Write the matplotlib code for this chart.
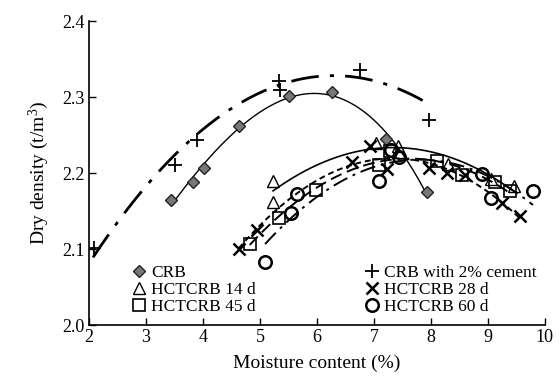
import numpy as np
import matplotlib
matplotlib.use("Agg")
import matplotlib.pyplot as plt
from matplotlib.legend import Legend

plt.rcParams['font.family'] = ['Liberation Serif', 'DejaVu Serif']
plt.rcParams['mathtext.fontset'] = 'custom'
plt.rcParams['mathtext.rm'] = 'Liberation Serif'
plt.rcParams['mathtext.it'] = 'Liberation Serif:italic'

# ---- data ----
crb_x = [3.44, 3.82, 4.02, 4.63, 5.51, 6.26, 7.21, 7.93]
crb_y = [2.164, 2.188, 2.207, 2.262, 2.302, 2.306, 2.245, 2.175]

cem_x = [2.08, 3.51, 3.89, 5.33, 5.35, 6.76, 7.96]
cem_y = [2.101, 2.210, 2.243, 2.321, 2.309, 2.336, 2.270]
# trend line of the cement series
cem_trend_x = [2.07, 3.20, 4.50, 6.30, 7.96]
cem_trend_y = [2.089, 2.200, 2.285, 2.328, 2.291]

d14_x = [5.23, 5.23, 7.04, 7.42, 8.30, 9.05, 9.45]
d14_y = [2.189, 2.162, 2.240, 2.235, 2.212, 2.192, 2.183]

d28_x = [4.63, 4.94, 6.61, 6.93, 7.23, 7.96, 8.28, 8.60, 9.24, 9.56]
d28_y = [2.100, 2.125, 2.215, 2.235, 2.205, 2.206, 2.200, 2.198, 2.161, 2.144]

d45_x = [4.82, 5.33, 5.98, 7.09, 7.28, 8.10, 8.54, 9.12, 9.39]
d45_y = [2.107, 2.141, 2.178, 2.211, 2.229, 2.216, 2.197, 2.188, 2.176]

d60_x = [5.09, 5.54, 5.65, 7.09, 7.30, 7.44, 8.89, 9.06, 9.79]
d60_y = [2.083, 2.148, 2.172, 2.190, 2.230, 2.221, 2.199, 2.167, 2.176]

x_ticks = [2, 3, 4, 5, 6, 7, 8, 9, 10]
y_ticks = [2.0, 2.1, 2.2, 2.3, 2.4]

fig = plt.figure(figsize=(5.6, 3.82), dpi=100)
ax = fig.add_axes([0.159, 0.149, 0.814, 0.796])


def fit_curve(x, y, deg, lw, dashes=None):
    c = np.polyfit(x, y, deg)
    xs = np.linspace(min(x), max(x), 200)
    ln, = ax.plot(xs, np.polyval(c, xs), color='black', lw=lw, ls='-')
    if dashes is not None:
        ln.set_dashes(dashes)
    return ln

fit_curve(crb_x, crb_y, 3, 1.0)
fit_curve(cem_trend_x, cem_trend_y, 2, 2.0, dashes=[10, 4, 1.5, 4])
fit_curve(d14_x, d14_y, 2, 1.2)
fit_curve(d28_x, d28_y, 2, 1.4, dashes=[3, 2])
fit_curve(d45_x, d45_y, 2, 1.4, dashes=[6, 3])
fit_curve(d60_x, d60_y, 2, 1.4, dashes=[8, 3, 1.5, 3])

h_crb, = ax.plot(crb_x, crb_y, ls='none', marker='D', ms=6, mfc='#777777', mec='#222222', mew=1.0)
h_cem, = ax.plot(cem_x, cem_y, ls='none', marker='+', ms=10, mec='black', mew=1.3)
h_14, = ax.plot(d14_x, d14_y, ls='none', marker='^', ms=9, mfc='none', mec='black', mew=1.0)
h_28, = ax.plot(d28_x, d28_y, ls='none', marker='x', ms=8, mec='black', mew=1.8)
h_45, = ax.plot(d45_x, d45_y, ls='none', marker='s', ms=8, mfc='none', mec='black', mew=1.2)
h_60, = ax.plot(d60_x, d60_y, ls='none', marker='o', ms=9, mfc='none', mec='black', mew=1.8)

ax.set_xlim(2, 10)
ax.set_ylim(2.0, 2.4)
ax.set_xticks(x_ticks)
ax.set_yticks(y_ticks)
ax.set_xticklabels([str(v) for v in x_ticks])
ax.set_yticklabels([f"{v:.1f}" for v in y_ticks])
ax.tick_params(direction='in', length=5, width=1.0, labelsize=13, pad=3)
for s in ['top', 'right']:
    ax.spines[s].set_visible(False)
for s in ['left', 'bottom']:
    ax.spines[s].set_linewidth(1.2)

ax.set_xlabel('Moisture content (%)', fontsize=14, labelpad=6)
ax.set_ylabel('Dry density (t/m$^3$)', fontsize=14, labelpad=8)

kw = dict(frameon=False, fontsize=12.5, handlelength=0.8, handletextpad=0.3,
          labelspacing=0.05, borderaxespad=0, borderpad=0)
leg1 = Legend(ax, [h_crb, h_14, h_45], ['CRB', 'HCTCRB 14 d', 'HCTCRB 45 d'],
              loc='upper left', bbox_to_anchor=(0.095, 0.198), **kw)
leg2 = Legend(ax, [h_cem, h_28, h_60], ['CRB with 2% cement', 'HCTCRB 28 d', 'HCTCRB 60 d'],
              loc='upper left', bbox_to_anchor=(0.606, 0.198), **kw)
ax.add_artist(leg1)
ax.add_artist(leg2)

fig.savefig('out.png', dpi=100)
